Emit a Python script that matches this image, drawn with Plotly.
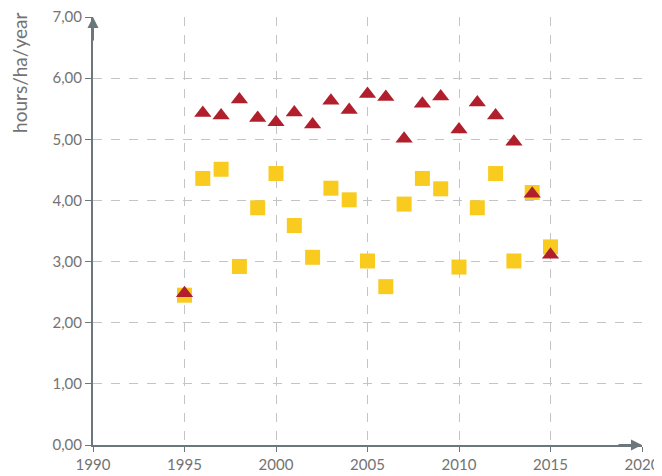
import plotly.graph_objects as go

years = list(range(1995, 2016))
squares = [2.45, 4.36, 4.51, 2.92, 3.88, 4.44, 3.59, 3.07, 4.20, 4.01, 3.01,
           2.59, 3.94, 4.36, 4.19, 2.91, 3.88, 4.44, 3.01, 4.13, 3.24]
triangles = [2.48, 5.43, 5.39, 5.65, 5.35, 5.28, 5.44, 5.24, 5.63, 5.48, 5.74,
             5.69, 5.01, 5.58, 5.70, 5.16, 5.60, 5.39, 4.96, 4.11, 3.11]
x_ticks = [1990, 1995, 2000, 2005, 2010, 2015, 2020]
y_ticks = [0, 1, 2, 3, 4, 5, 6, 7]
y_title = "hours/ha/year"

axis_color = "#6b777d"
text_color = "#737373"
grid_color = "#c4c4c4"

fig = go.Figure()
fig.add_trace(go.Scatter(x=years, y=squares, mode="markers",
                         marker=dict(symbol="square", size=15, color="#F9CB1F",
                                     line=dict(width=0)),
                         showlegend=False, cliponaxis=False))
fig.add_trace(go.Scatter(x=years, y=triangles, mode="markers",
                         marker=dict(symbol="triangle-up", size=15, color="#B01F2B",
                                     line=dict(width=0)),
                         showlegend=False, cliponaxis=False))

# page body has an 8px margin, so the figure is 654x468 placed at (8, 8)
fig.update_layout(
    width=654, height=468,
    margin=dict(l=85, r=20, t=9, b=31, autoexpand=False),
    plot_bgcolor="white", paper_bgcolor="white",
    separators=", ",
    font=dict(family="Lato", color=text_color, size=15),
    xaxis=dict(range=[1990, 2020], tickvals=x_ticks, showgrid=True,
               gridcolor=grid_color, griddash="dash", gridwidth=1,
               showline=True, linecolor=axis_color, linewidth=2,
               ticks="outside", ticklen=5, tickcolor=axis_color, tickwidth=1,
               zeroline=False, automargin=False, ticklabeloverflow="allow",
               tickfont=dict(size=15, color=text_color)),
    yaxis=dict(range=[0, 7], tickvals=y_ticks, tickformat=".2f", showgrid=True,
               gridcolor=grid_color, griddash="dash", gridwidth=1,
               showline=True, linecolor=axis_color, linewidth=2,
               ticks="outside", ticklen=6, tickcolor=axis_color, tickwidth=1,
               zeroline=False, automargin=False, ticklabeloverflow="allow",
               tickfont=dict(size=15, color=text_color)),
)

# axis arrowheads
fig.add_annotation(x=1990, y=7, xref="x", yref="y", ax=0, ay=25,
                   showarrow=True, arrowhead=2, arrowsize=1.1, arrowwidth=2,
                   arrowcolor=axis_color, text="")
fig.add_annotation(x=2020, y=0, xref="x", yref="y", ax=-25, ay=0,
                   showarrow=True, arrowhead=2, arrowsize=1.1, arrowwidth=2,
                   arrowcolor=axis_color, text="")

fig.add_annotation(text=y_title, xref="paper", yref="paper", x=-0.135, y=1.014,
                   xanchor="center", yanchor="top", textangle=-90, showarrow=False,
                   font=dict(size=19, color=text_color))

fig.write_html("out.html")
